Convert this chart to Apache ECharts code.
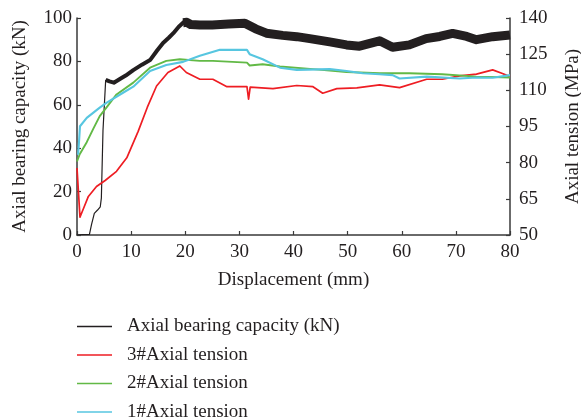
<!DOCTYPE html>
<html>
<head>
<meta charset="utf-8">
<script src="https://cdn.jsdelivr.net/npm/echarts@6/dist/echarts.min.js"></script>
<style>
  html, body { margin: 0; padding: 0; background: #fff; }
  #chart { width: 581px; height: 419px; }
</style>
</head>
<body>
<div id="chart"></div>
<script>
// displacement (mm) / axial bearing capacity (kN), split where the trace thickens
var capStartX = [0, 1, 2.3, 2.7, 3.2, 3.8, 4.3, 4.5, 4.8, 5.3];
var capStartY = [0, 0.2, 0.3, 5, 10, 11.5, 13, 17, 48, 71.5];
var capRiseX = [5.3, 6, 6.8, 8, 9, 10.4, 12, 13.5, 14.8, 15.9, 17, 17.8, 18.8, 19.8, 20.3];
var capRiseY = [71.5, 70.8, 70.2, 72, 73.5, 76, 78.5, 80.6, 85, 88.5, 91, 93, 96, 98.3, 98];
var capBandX = [19.6, 20.3, 21, 22.7, 25, 28, 31, 33, 35, 38, 40.6, 43, 46.7, 49.8, 52.2, 55.9, 58.3, 61.4, 64.5, 67, 69.4, 72, 73.8, 76.8, 80];
var capBandY = [97.8, 98, 97, 96.8, 96.8, 97.2, 97.6, 95, 93, 92, 91.4, 90.5, 89, 87.6, 87, 89.5, 86.5, 87.6, 90.5, 91.5, 92.9, 91.5, 90, 91.4, 92.2];

// axial tension (MPa)
var t3X = [0, 0.55, 1.2, 2.1, 3.6, 5.2, 7.3, 9.2, 11.3, 13, 14.7, 16.8, 19, 20.2, 22.7, 25.1, 27.7, 31.4, 31.7, 32, 36.2, 40.6, 43.6, 45.4, 48, 51.7, 55.9, 59.6, 64.6, 67.5, 70.7, 73.8, 76.8, 78.6, 80];
var t3Y = [77.8, 57.4, 61, 66, 70.1, 72.6, 76.4, 82, 93, 103, 111.8, 117.4, 120.1, 117.4, 114.6, 114.6, 111.5, 111.5, 106.3, 111.3, 110.7, 112, 111.5, 108.8, 110.7, 111, 112.3, 111.1, 114.6, 114.6, 116, 116.7, 118.5, 117, 115.7];
var t2X = [0, 0.5, 1.8, 3, 4.2, 5.5, 7.3, 10.4, 13.5, 16.5, 19, 22.7, 25.1, 31.4, 31.9, 34.3, 37.5, 43.6, 49.8, 55.9, 61.4, 67.5, 73.8, 80];
var t2Y = [80.5, 83.5, 88.5, 94, 99.3, 103, 108.3, 113.2, 119.4, 122.2, 122.9, 122.2, 122.2, 121.5, 120.3, 120.8, 119.9, 118.8, 117.6, 117.1, 117.1, 116.7, 115.7, 115.3];
var t1X = [0.2, 0.4, 0.55, 1.8, 4.2, 5.5, 8.5, 10.4, 13.5, 16.5, 19.6, 22.7, 26.4, 31.4, 31.9, 34.3, 37.5, 40.6, 46.7, 49.8, 52.8, 55.9, 58.3, 59.6, 64.6, 70.7, 73.8, 76.8, 80];
var t1Y = [83.3, 89.6, 95.1, 98.6, 102.8, 104.9, 109, 111.5, 118, 120.5, 121.8, 124.3, 126.8, 126.8, 125, 122.9, 119.4, 118.5, 118.8, 118, 117.1, 116.7, 116.3, 114.9, 115.7, 114.9, 115.3, 115.2, 116.3];

var names = ['Axial bearing capacity (kN)', '3#Axial tension', '2#Axial tension', '1#Axial tension'];

function pairs(xs, ys) {
  return xs.map(function(x, i) { return [x, ys[i]]; });
}

var ink = '#231f20';
var font = 'Liberation Serif';

var chart = echarts.init(document.getElementById('chart'), null, { renderer: 'canvas' });

function axisBase() {
  return {
    axisLine: { show: true, lineStyle: { color: '#3a3a3a', width: 1.5 } },
    axisTick: { show: true, inside: true, length: 4, lineStyle: { color: '#3a3a3a', width: 1.2 } },
    splitLine: { show: false },
    axisLabel: { color: ink, fontFamily: font, fontSize: 19 },
    nameTextStyle: { color: ink, fontFamily: font, fontSize: 19 }
  };
}

var xAx = axisBase();
xAx.type = 'value'; xAx.min = 0; xAx.max = 80; xAx.interval = 10;
xAx.name = 'Displacement (mm)'; xAx.nameLocation = 'middle'; xAx.nameGap = 36;
xAx.axisLabel.margin = 8;

var yLeft = axisBase();
yLeft.type = 'value'; yLeft.min = 0; yLeft.max = 100; yLeft.interval = 20;
yLeft.name = names[0]; yLeft.nameLocation = 'middle'; yLeft.nameGap = 47; yLeft.nameRotate = 90;
yLeft.axisLabel.margin = 5;

var yRight = axisBase();
yRight.type = 'value'; yRight.min = 50; yRight.max = 140; yRight.interval = 15; yRight.position = 'right';
yRight.name = 'Axial tension (MPa)'; yRight.nameLocation = 'middle'; yRight.nameGap = 54; yRight.nameRotate = 90;
yRight.axisLabel.margin = 9;

function line(name, data, color, width, yIdx) {
  return {
    type: 'line', name: name, data: data, yAxisIndex: yIdx,
    showSymbol: false, symbol: 'none', smooth: false,
    lineStyle: { color: color, width: width, join: 'round' },
    itemStyle: { color: color }
  };
}

chart.setOption({
  animation: false,
  backgroundColor: '#fff',
  grid: { left: 77, right: 71, top: 18, bottom: 184, containLabel: false, outerBoundsMode: 'none' },
  legend: {
    data: names,
    orient: 'vertical',
    left: 77,
    top: 317,
    height: 120,
    padding: 0,
    icon: 'rect',
    itemWidth: 35,
    itemHeight: 1.5,
    itemGap: 9.5,
    textStyle: { color: ink, fontFamily: font, fontSize: 19, lineHeight: 18, padding: [0, 0, 0, 10] }
  },
  xAxis: xAx,
  yAxis: [yLeft, yRight],
  series: [
    line(names[0], pairs(capStartX, capStartY), ink, 1.2, 0),
    line(names[0], pairs(capRiseX, capRiseY), ink, 4, 0),
    line(names[0], pairs(capBandX, capBandY), ink, 9, 0),
    line(names[1], pairs(t3X, t3Y), '#ee1d23', 1.7, 1),
    line(names[2], pairs(t2X, t2Y), '#62b946', 1.9, 1),
    line(names[3], pairs(t1X, t1Y), '#57c6e0', 2.1, 1)
  ]
});
</script>
</body>
</html>
